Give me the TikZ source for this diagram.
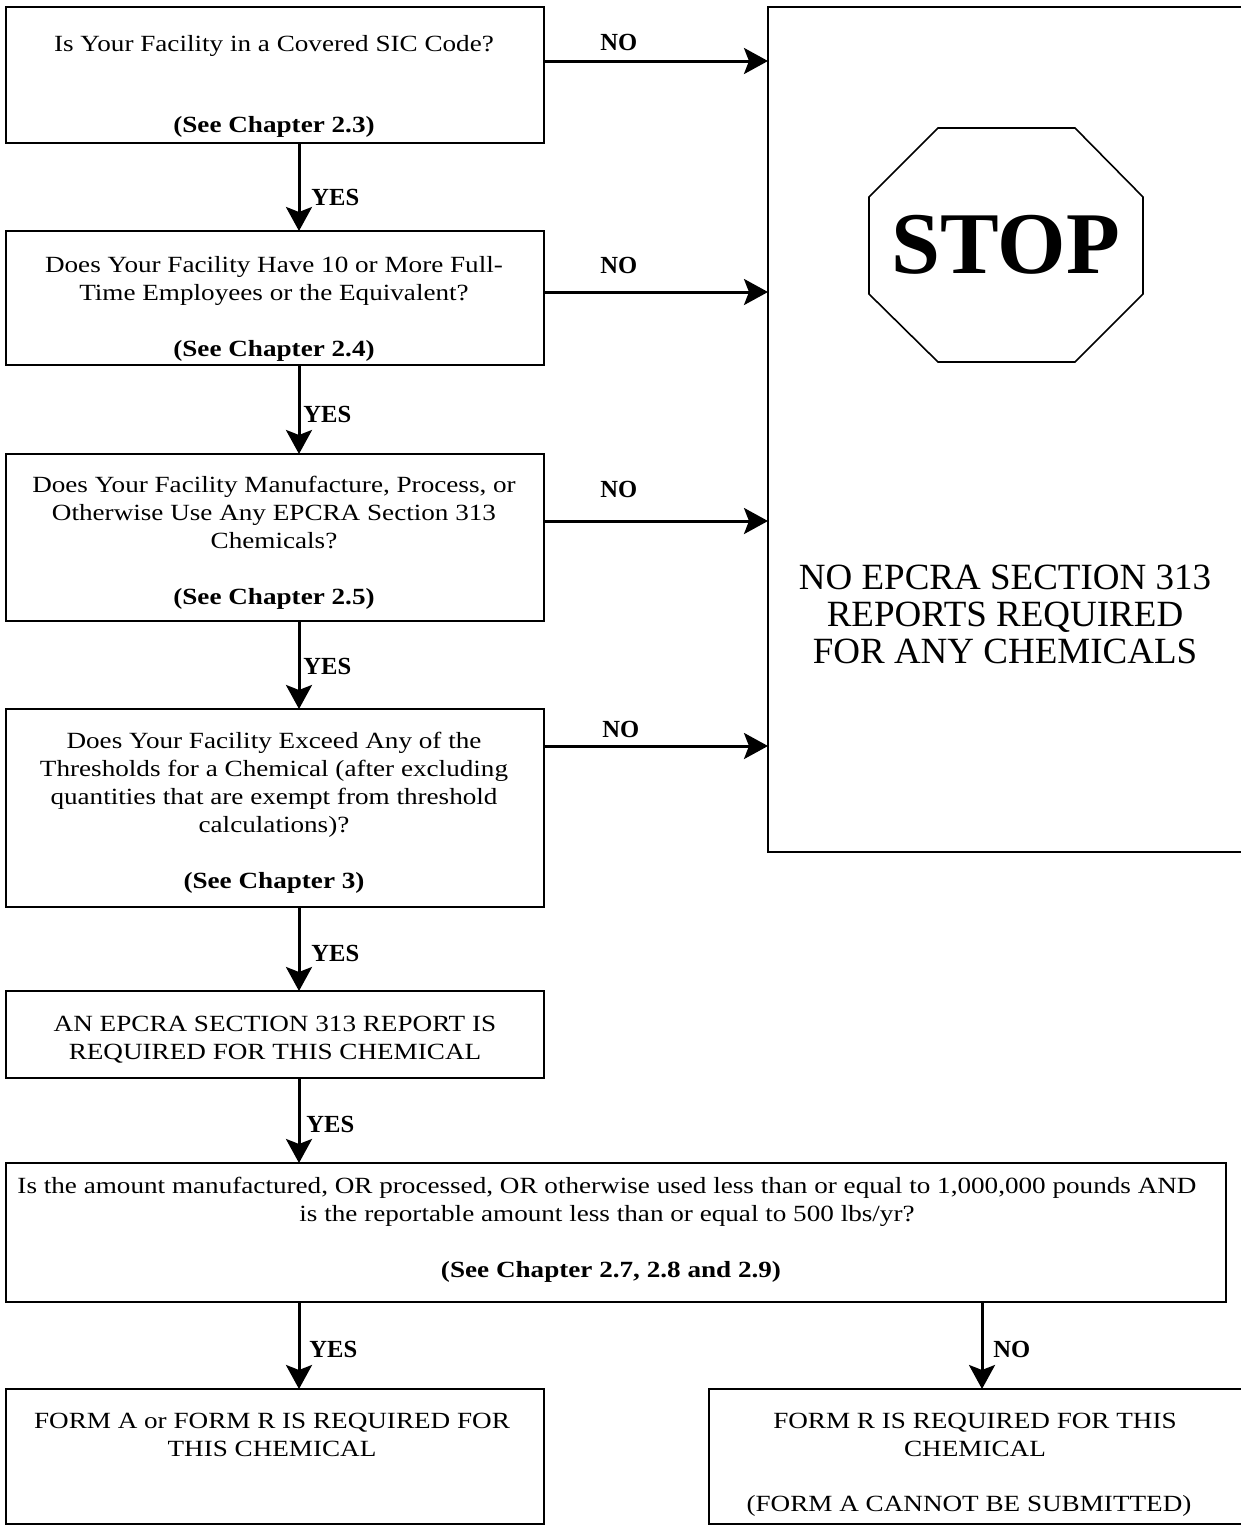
\documentclass[tikz,border=0pt]{standalone}
\usepackage{fontspec}
\setmainfont{Liberation Serif}
\newfontfamily\boxfont{Liberation Serif}[FakeStretch=1.17]
\usetikzlibrary{arrows.meta}

\tikzset{
  box/.style={draw, line width=1.3pt, inner sep=0pt, outer sep=0pt},
  arr/.style={line width=1.5pt, -{Stealth[length=12pt,width=13pt,inset=2.5pt]}},
  qtext/.style={align=center, inner sep=0pt, anchor=base, font=\boxfont\fontsize{11.6}{14}\selectfont},
  reftext/.style={qtext, font=\boxfont\bfseries\fontsize{11.6}{14}\selectfont},
  yesno/.style={anchor=base west, inner sep=0pt, font=\bfseries\fontsize{12.3}{14}\selectfont},
}

\begin{document}
\begin{tikzpicture}[x=0.5pt,y=-0.5pt]
\useasboundingbox (0,0) rectangle (1241,1526);

%Shape: Rectangle [boxes]
\node[box, minimum width=269pt, minimum height=68pt] (sic) at (275,75) {};
\node[box, minimum width=269pt, minimum height=67pt] (emp) at (275,298) {};
\node[box, minimum width=269pt, minimum height=83.5pt] (chem) at (275,537.5) {};
\node[box, minimum width=269pt, minimum height=99pt] (thr) at (275,808) {};
\node[box, minimum width=269pt, minimum height=43.5pt] (rep) at (275,1034.5) {};
\node[box, minimum width=610pt, minimum height=69.5pt] (amt) at (616,1232.5) {};
\node[box, minimum width=269pt, minimum height=67.5pt] (formar) at (275,1456.5) {};
\node[box, minimum width=268.5pt, minimum height=67.5pt] (formr) at (977.5,1456.5) {};
\node[box, minimum width=239pt, minimum height=422.5pt] (stop) at (1007,429.5) {};

%Shape: Octagon
\draw[line width=0.8pt] (938,128) -- (1075,128) -- (1143,197) -- (1143,294) -- (1075,362)
  -- (938,362) -- (869,294) -- (869,197) -- cycle;
\node[anchor=base, inner sep=0pt, font=\bfseries\fontsize{44}{44}\selectfont] (stopsign) at (1006,273) {STOP};

% Text Node (base = last line)
\node[qtext] (sicq) at (274,51) {Is Your Facility in a Covered SIC Code?};
\node[reftext] (sicref) at (274,132) {(See Chapter 2.3)};
\node[qtext] (empq) at (274,300) {Does Your Facility Have 10 or More Full-\\Time Employees or the Equivalent?};
\node[reftext] (empref) at (274,356) {(See Chapter 2.4)};
\node[qtext] (chemq) at (274,548) {Does Your Facility Manufacture, Process, or\\Otherwise Use Any EPCRA Section 313\\Chemicals?};
\node[reftext] (chemref) at (274,604) {(See Chapter 2.5)};
\node[qtext] (thrq) at (274,832) {Does Your Facility Exceed Any of the\\Thresholds for a Chemical (after excluding\\quantities that are exempt from threshold\\calculations)?};
\node[reftext] (thrref) at (274,888) {(See Chapter 3)};
\node[qtext] (repq) at (275,1059) {AN EPCRA SECTION 313 REPORT IS\\REQUIRED FOR THIS CHEMICAL};
\node[qtext] (amtq) at (607,1221) {Is the amount manufactured, OR processed, OR otherwise used less than or equal to 1,000,000 pounds AND\\is the reportable amount less than or equal to 500 lbs/yr?};
\node[reftext] (amtref) at (611,1277) {(See Chapter 2.7, 2.8 and 2.9)};
\node[qtext] (formarq) at (272,1456) {FORM A or FORM R IS REQUIRED FOR\\THIS CHEMICAL};
\node[qtext] (formrq) at (975,1456) {FORM R IS REQUIRED FOR THIS\\CHEMICAL};
\node[qtext] (formrnote) at (969,1511) {(FORM A CANNOT BE SUBMITTED)};
\node[anchor=base, align=center, inner sep=0pt, font=\fontsize{18.5}{18.5}\selectfont] (stopq) at (1005,663)
  {NO EPCRA SECTION 313\\REPORTS REQUIRED\\FOR ANY CHEMICALS};

%Straight Lines [arrows]
\coordinate (ax) at (299,0);
\coordinate (bx) at (982,0);
\draw[arr] (sic.south -| ax) -- (emp.north -| ax);
\draw[arr] (emp.south -| ax) -- (chem.north -| ax);
\draw[arr] (chem.south -| ax) -- (thr.north -| ax);
\draw[arr] (thr.south -| ax) -- (rep.north -| ax);
\draw[arr] (rep.south -| ax) -- (amt.north -| ax);
\draw[arr] (amt.south -| ax) -- (formar.north -| ax);
\draw[arr] (amt.south -| bx) -- (formr.north -| bx);
\coordinate (n1) at (0,61);
\coordinate (n2) at (0,292);
\coordinate (n3) at (0,521);
\coordinate (n4) at (0,746);
\draw[arr] (sic.east |- n1) -- (stop.west |- n1);
\draw[arr] (emp.east |- n2) -- (stop.west |- n2);
\draw[arr] (chem.east |- n3) -- (stop.west |- n3);
\draw[arr] (thr.east |- n4) -- (stop.west |- n4);

% Text Node [labels]
\node[yesno] (yes1) at (311,205) {YES};
\node[yesno] (yes2) at (303,422) {YES};
\node[yesno] (yes3) at (303,674) {YES};
\node[yesno] (yes4) at (311,961) {YES};
\node[yesno] (yes5) at (306,1132) {YES};
\node[yesno] (yes6) at (309,1357) {YES};
\node[yesno] (no6) at (993,1357) {NO};
\node[yesno] (no1) at (600,50) {NO};
\node[yesno] (no2) at (600,273) {NO};
\node[yesno] (no3) at (600,497) {NO};
\node[yesno] (no4) at (602,737) {NO};
\end{tikzpicture}
\end{document}
